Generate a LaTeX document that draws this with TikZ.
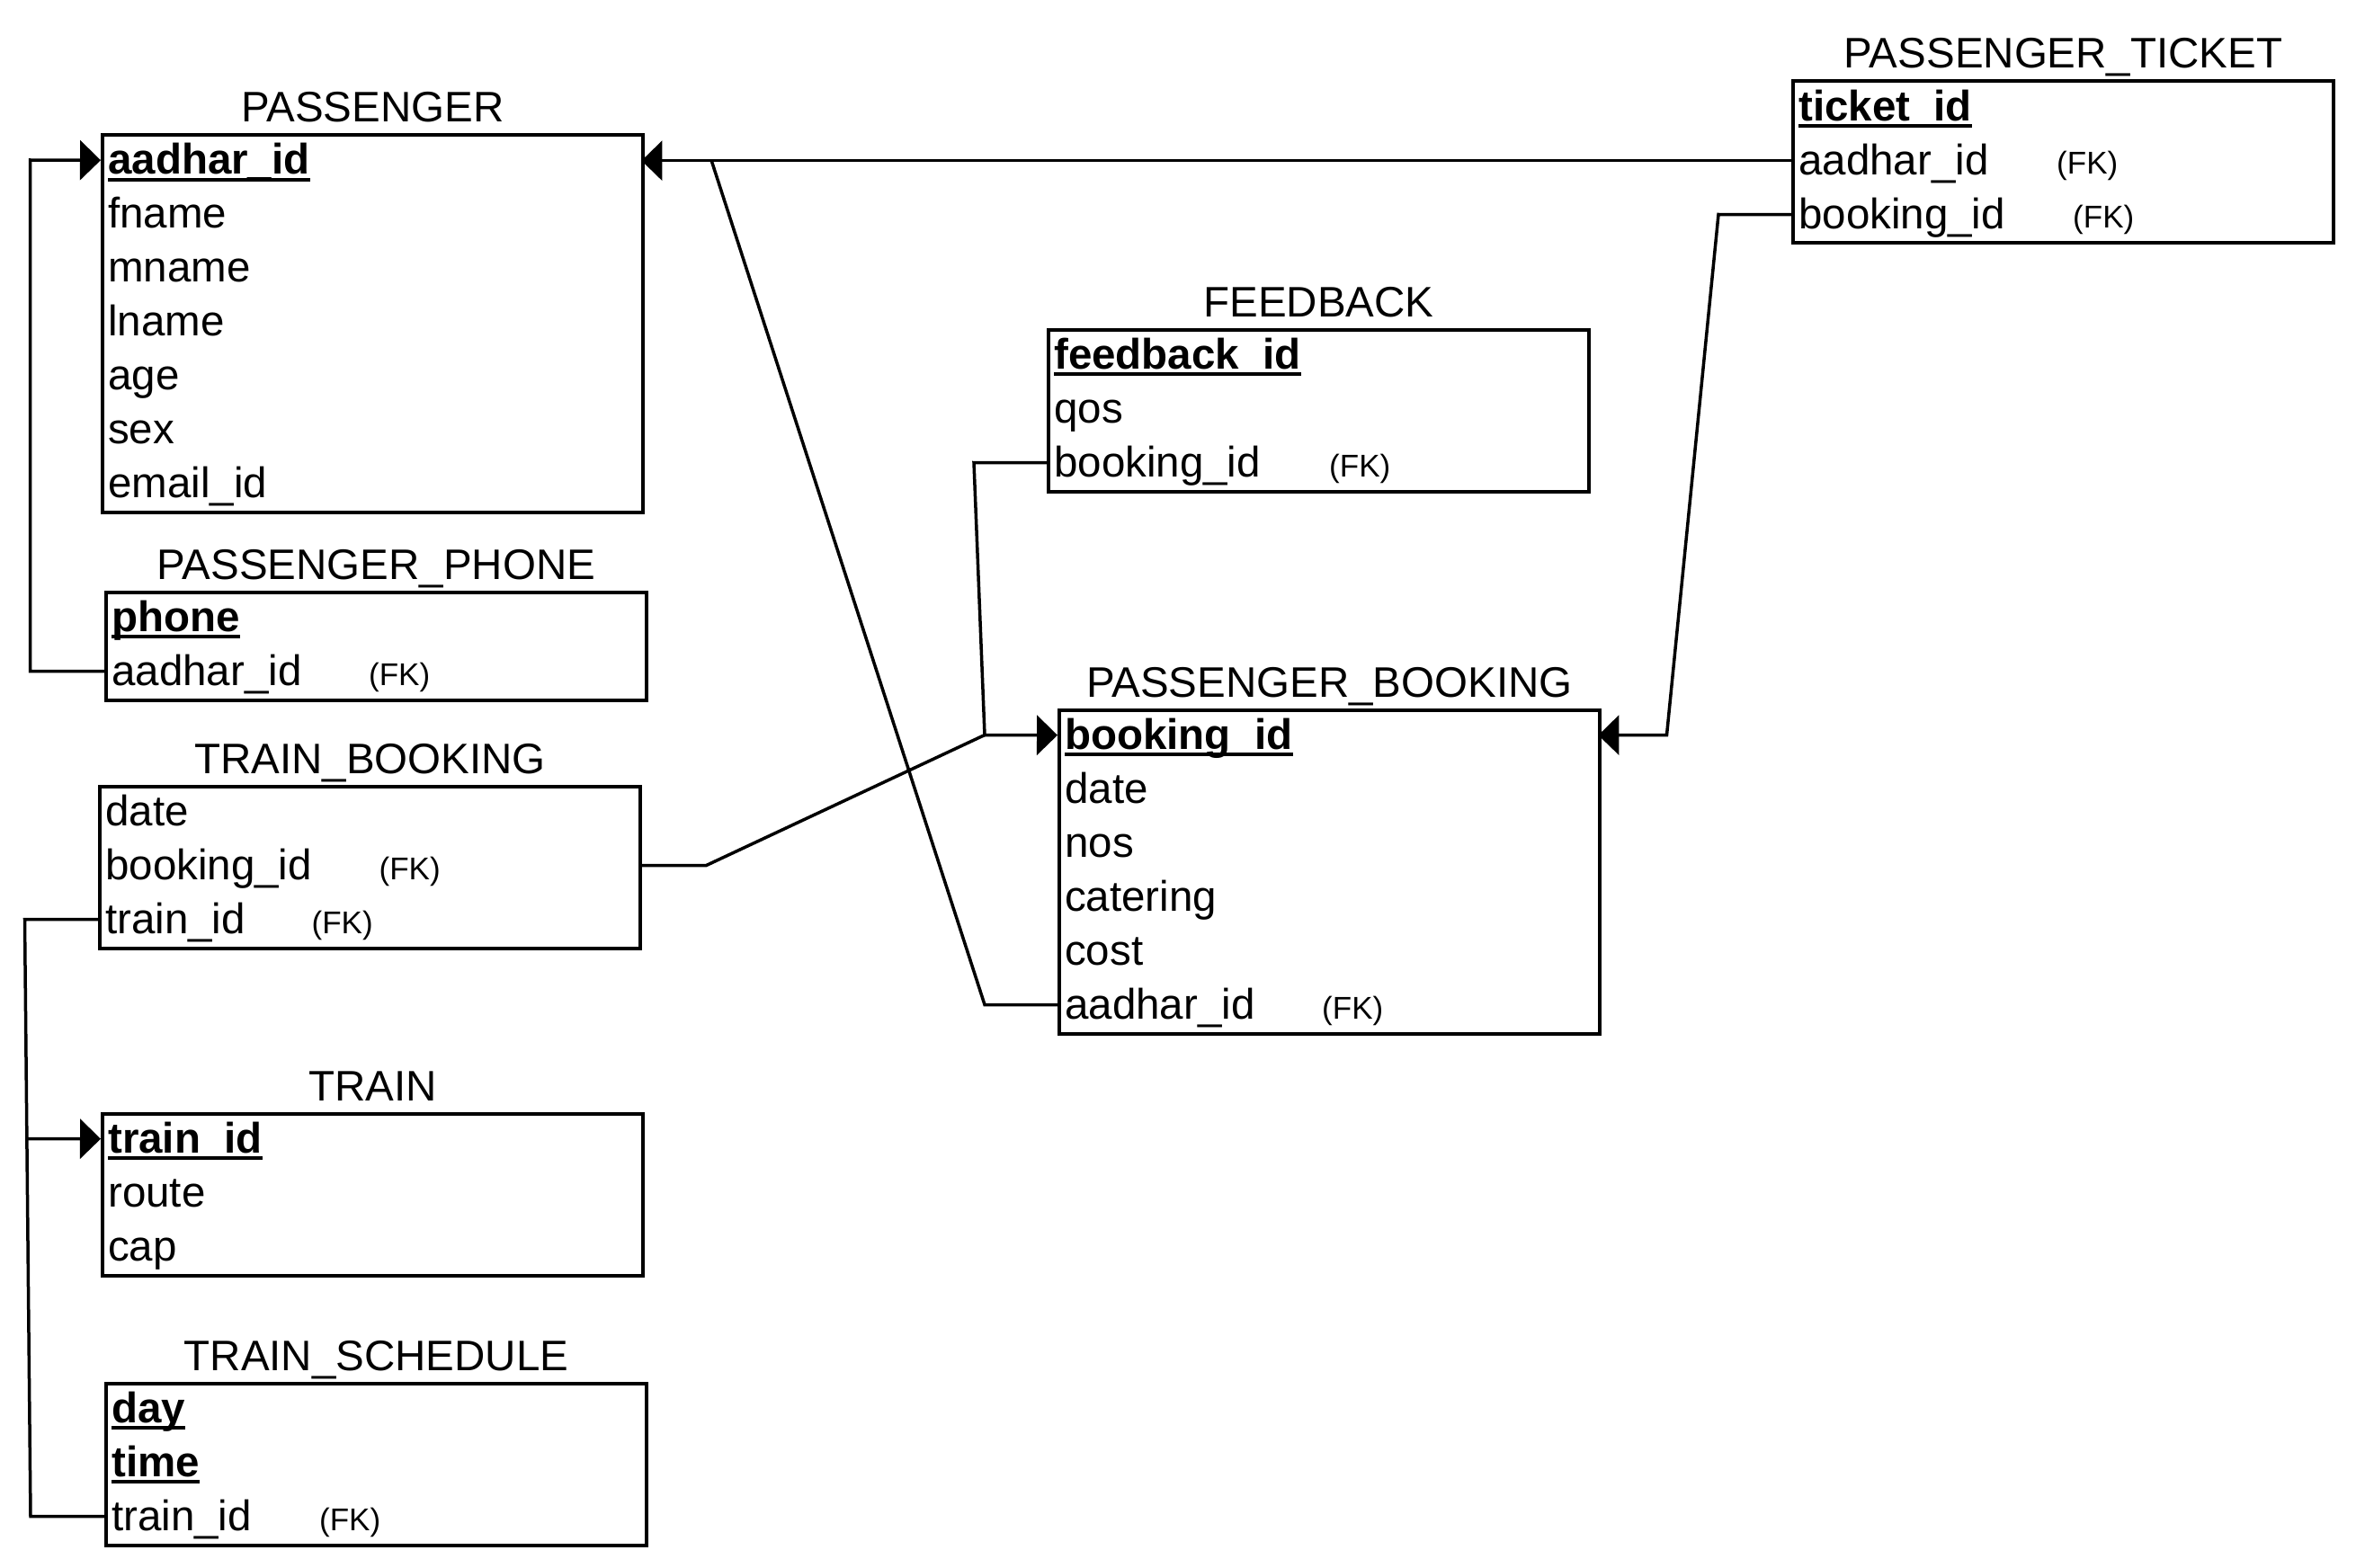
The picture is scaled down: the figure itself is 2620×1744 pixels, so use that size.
\documentclass[tikz,border=0pt]{standalone}
\usepackage{fontspec}
\setmainfont{Liberation Sans}
\usetikzlibrary{arrows.meta,calc}
\newcommand\pkey[1]{\setbox0\hbox{\bfseries #1}\rlap{\rule[-0.17em]{\wd0}{0.085em}}\box0}
\begin{document}
\begin{tikzpicture}[x=1pt,y=-1pt,
  tbl/.style={draw,line width=4pt,anchor=north west,inner sep=0,minimum width=601pt},
  row/.style={anchor=north west,inner xsep=8pt,inner ysep=0,text height=45.5pt,text depth=14.5pt,text width=585pt,align=left,font=\fontsize{47.5pt}{57pt}\selectfont},
  ttl/.style={anchor=base,inner sep=0,font=\fontsize{47.5pt}{57pt}\selectfont},
  fk/.style={anchor=base west,inner sep=0,font=\fontsize{35pt}{40pt}\selectfont},
  conn/.style={line width=3.5pt},
  arr/.style={conn,-{Triangle[length=23pt,width=44pt]}}]
\fill[white] (0,0) rectangle (2620,1744);
\useasboundingbox (0,0) rectangle (2620,1744);

% PASSENGER
\node[row] (p1) at (112,148) {\pkey{aadhar\_id}};
\node[row] (p2) at (112,208) {fname};
\node[row] (p3) at (112,268) {mname};
\node[row] (p4) at (112,328) {lname};
\node[row] (p5) at (112,388) {age};
\node[row] (p6) at (112,448) {sex};
\node[row] (p7) at (112,508) {email\_id};
\node[tbl,minimum height=420pt] (P) at (112,148) {};
\node[ttl] (Pt) at ($(P.north)+(0,-12.5)$) {PASSENGER};

% PASSENGER_PHONE
\node[row] (pp1) at (116,656.5) {\pkey{phone}};
\node[row] (pp2) at (116,716.5) {aadhar\_id};
\node[fk] (ppfk) at (410,762) {(FK)};
\node[tbl,minimum height=120pt] (PP) at (116,656.5) {};
\node[ttl] (PPt) at ($(PP.north)+(0,-12.5)$) {PASSENGER\_PHONE};

% TRAIN_BOOKING
\node[row] (tb1) at (109,872.5) {date};
\node[row] (tb2) at (109,932.5) {booking\_id};
\node[row] (tb3) at (109,992.5) {train\_id};
\node[fk] (tbfk1) at (421.5,978) {(FK)};
\node[fk] (tbfk2) at (346.5,1038) {(FK)};
\node[tbl,minimum height=180pt] (TB) at (109,872.5) {};
\node[ttl] (TBt) at ($(TB.north)+(0,-12.5)$) {TRAIN\_BOOKING};

% TRAIN
\node[row] (t1) at (112,1236.5) {\pkey{train\_id}};
\node[row] (t2) at (112,1296.5) {route};
\node[row] (t3) at (112,1356.5) {cap};
\node[tbl,minimum height=180pt] (T) at (112,1236.5) {};
\node[ttl] (Tt) at ($(T.north)+(0,-12.5)$) {TRAIN};

% TRAIN_SCHEDULE
\node[row] (ts1) at (116,1536.5) {\pkey{day}};
\node[row] (ts2) at (116,1596.5) {\pkey{time}};
\node[row] (ts3) at (116,1656.5) {train\_id};
\node[fk] (tsfk) at (355,1702) {(FK)};
\node[tbl,minimum height=180pt] (TS) at (116,1536.5) {};
\node[ttl] (TSt) at ($(TS.north)+(0,-12.5)$) {TRAIN\_SCHEDULE};

% FEEDBACK
\node[row] (f1) at (1164,364.5) {\pkey{feedback\_id}};
\node[row] (f2) at (1164,424.5) {qos};
\node[row] (f3) at (1164,484.5) {booking\_id};
\node[fk] (ffk) at (1478,530) {(FK)};
\node[tbl,minimum height=180pt] (F) at (1164,364.5) {};
\node[ttl] (Ft) at ($(F.north)+(0,-12.5)$) {FEEDBACK};

% PASSENGER_BOOKING
\node[row] (pb1) at (1176,787.5) {\pkey{booking\_id}};
\node[row] (pb2) at (1176,847.5) {date};
\node[row] (pb3) at (1176,907.5) {nos};
\node[row] (pb4) at (1176,967.5) {catering};
\node[row] (pb5) at (1176,1027.5) {cost};
\node[row] (pb6) at (1176,1087.5) {aadhar\_id};
\node[fk] (pbfk) at (1470,1133) {(FK)};
\node[tbl,minimum height=360pt] (PB) at (1176,787.5) {};
\node[ttl] (PBt) at ($(PB.north)+(0,-12.5)$) {PASSENGER\_BOOKING};

% PASSENGER_TICKET
\node[row] (pt1) at (1992,88.5) {\pkey{ticket\_id}};
\node[row] (pt2) at (1992,148.5) {aadhar\_id};
\node[row] (pt3) at (1992,208.5) {booking\_id};
\node[fk] (ptfk1) at (2287,194) {(FK)};
\node[fk] (ptfk2) at (2305,254) {(FK)};
\node[tbl,minimum height=180pt] (PT) at (1992,88.5) {};
\node[ttl] (PTt) at ($(PT.north)+(0,-12.5)$) {PASSENGER\_TICKET};

% connectors
\coordinate (j1) at (791,178);
\coordinate (b1) at (1095,1117.5);
\coordinate (b2) at (1083,514.5);
\coordinate (j2) at (1095,817.5);
\coordinate (b3) at (785.5,962.5);
\coordinate (b4) at (1911,238.5);
\coordinate (b5) at (1853.5,817.5);
\coordinate (b6) at (33.5,746.5);
\coordinate (b7) at (33.5,178);
\coordinate (b8) at (27.5,1022.5);
\coordinate (b9) at (34,1686.5);
\coordinate (j3) at (30,1266.5);

\draw[arr] (pt2.west) -- (pt2.west -| p1.east);
\draw[conn] (pb6.west) -- (b1) -- (j1);
\draw[arr] (f3.west) -- (b2) -- (j2) -- (pb1.west);
\draw[conn] (tb2.east) -- (b3) -- (j2);
\draw[arr] (pt3.west) -- (b4) -- (b5) -- (pb1.east);
\draw[arr] (pp2.west) -- (b6) -- (b7) -- (p1.west);
\draw[conn] (tb3.west) -- (b8) -- (b9) -- (ts3.west);
\draw[arr] (j3) -- (t1.west);
\end{tikzpicture}
\end{document}
